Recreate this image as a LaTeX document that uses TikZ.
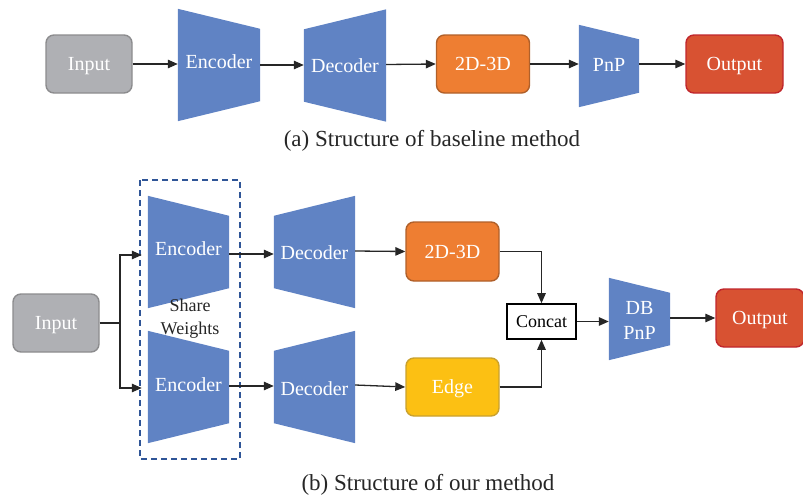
\documentclass[tikz,border=0pt]{standalone}
\usepackage{fontspec}
\setmainfont{Liberation Serif}
\usetikzlibrary{arrows.meta}
\definecolor{tblue}{HTML}{6083C4}
\definecolor{tgray}{HTML}{AFB0B4}
\definecolor{tgrayb}{HTML}{8C8C8E}
\definecolor{torange}{HTML}{EE7E32}
\definecolor{torangeb}{HTML}{B0602A}
\definecolor{tred}{HTML}{D85232}
\definecolor{tredb}{HTML}{C0262C}
\definecolor{tyellow}{HTML}{FCC013}
\definecolor{tyellowb}{HTML}{C9A12E}
\definecolor{tdash}{HTML}{2F5597}
\definecolor{tline}{HTML}{262626}
\begin{document}
\begin{tikzpicture}[x=1pt,y=-1pt,
  box/.style={rounded corners=8pt,line width=1.4pt,minimum width=#1,minimum height=58pt,inner sep=0pt,text=white,font=\fontsize{20}{24}\selectfont,text height=13.2pt,text depth=0pt},
  inbox/.style={box=86pt,fill=tgray,draw=tgrayb},
  orbox/.style={box=93pt,fill=torange,draw=torangeb},
  redbox/.style={box=97pt,fill=tred,draw=tredb},
  yelbox/.style={box=93pt,fill=tyellow,draw=tyellowb},
  trap/.style={minimum width=#1,inner sep=0pt,text=white,font=\fontsize{20}{24}\selectfont,align=center},
  arr/.style={draw=tline,line width=1.3pt,-{Triangle[length=10pt,width=8.5pt]}},
  captext/.style={font=\fontsize{23}{27}\selectfont,text=black!85}
]
\useasboundingbox (0,0) rectangle (803,498);

% ---------- (a) ----------
\node[inbox] (inA) at (89,64) {Input};
\node[trap=82pt,minimum height=112pt] (encA) at (219,65) {};
\fill[tblue] (encA.north west) -- ([yshift=-20pt]encA.north east) -- ([yshift=20pt]encA.south east) -- (encA.south west) -- cycle;
\node[trap=82pt] at (219,62) {Encoder};
\node[trap=82pt,minimum height=112pt] (decA) at (345,65.5) {};
\fill[tblue] ([yshift=-20pt]decA.north west) -- (decA.north east) -- (decA.south east) -- ([yshift=20pt]decA.south west) -- cycle;
\node[trap=82pt] at (345,65.5) {Decoder};
\node[orbox] (d23A) at (483,64) {2D-3D};
\node[trap=60pt,minimum height=82pt] (pnpA) at (609,66) {};
\fill[tblue] (pnpA.north west) -- ([yshift=-14.5pt]pnpA.north east) -- ([yshift=14.5pt]pnpA.south east) -- (pnpA.south west) -- cycle;
\node[trap=60pt] at (609,65) {PnP};
\node[redbox] (outA) at (734.5,64) {Output};

\draw[arr] (inA.east) -- (inA.east -| encA.west);
\draw[arr] (encA.east) -- (encA.east -| decA.west);
\draw[arr] ([yshift=1pt]decA.east) -- (d23A.west);
\draw[arr] (d23A.east) -- (d23A.east -| pnpA.west);
\draw[arr] (pnpA.east |- outA.west) -- (outA.west);

\node[captext] (capA) at (432,141) {(a) Structure of baseline method};

% ---------- (b) ----------
\node[inbox] (inB) at (56,323) {Input};

\draw[tdash,line width=1.5pt,dash pattern=on 6pt off 4pt] (140,180) rectangle (240,459);

\node[trap=81pt,minimum height=112pt] (enc1) at (188.5,252) {};
\fill[tblue] (enc1.north west) -- ([yshift=-20pt]enc1.north east) -- ([yshift=20pt]enc1.south east) -- (enc1.south west) -- cycle;
\node[trap=81pt] at (188.5,249) {Encoder};
\node[trap=81pt,minimum height=112pt] (enc2) at (188.5,387) {};
\fill[tblue] (enc2.north west) -- ([yshift=-20pt]enc2.north east) -- ([yshift=20pt]enc2.south east) -- (enc2.south west) -- cycle;
\node[trap=81pt] at (188.5,385) {Encoder};
\node[font=\fontsize{18}{23}\selectfont,align=center,text=black!85] (share) at (190,319) {Share\\Weights};

\node[trap=81pt,minimum height=112pt] (dec1) at (314.5,252) {};
\fill[tblue] ([yshift=-20pt]dec1.north west) -- (dec1.north east) -- (dec1.south east) -- ([yshift=20pt]dec1.south west) -- cycle;
\node[trap=81pt] at (314.5,253) {Decoder};
\node[trap=81pt,minimum height=112pt] (dec2) at (314.5,387) {};
\fill[tblue] ([yshift=-20pt]dec2.north west) -- (dec2.north east) -- (dec2.south east) -- ([yshift=20pt]dec2.south west) -- cycle;
\node[trap=81pt] at (314.5,389) {Decoder};

\node[orbox,minimum height=59pt] (d23B) at (452.5,251.5) {2D-3D};
\node[yelbox] (edge) at (452.5,387) {Edge};
\node[draw=black,line width=1.6pt,fill=white,minimum width=69pt,minimum height=35pt,inner sep=0pt,font=\fontsize{18}{22}\selectfont] (concat) at (541.5,321.5) {Concat};

\node[trap=61pt,minimum height=82pt] (dbpnp) at (639.5,319) {};
\fill[tblue] (dbpnp.north west) -- ([yshift=-15pt]dbpnp.north east) -- ([yshift=15pt]dbpnp.south east) -- (dbpnp.south west) -- cycle;
\node[trap=61pt,font=\fontsize{20}{25}\selectfont] at (639.5,320) {DB\\PnP};
\node[redbox,minimum width=88pt] (outB) at (760,318) {Output};

\coordinate (split) at (120,323);
\draw[tline,line width=2.4pt] (inB.east) -- (split);
\draw[arr,shorten >=6pt] (split) |- ([yshift=-3pt]enc1.west);
\draw[arr,shorten >=6pt] (split) |- ([yshift=-1pt]enc2.west);
\draw[arr] ([yshift=-2pt]enc1.east) -- ([yshift=-2pt]enc1.east -| dec1.west);
\draw[arr] ([yshift=1pt]enc2.east) -- ([yshift=1pt]enc2.east -| dec2.west);
\draw[arr] ([yshift=1pt]dec1.east) -- (d23B.west);
\draw[arr] ([yshift=2pt]dec2.east) -- (edge.west);
\draw[arr] (d23B.east) -| (concat.north);
\draw[arr] (edge.east) -| (concat.south);
\draw[arr] (concat.east) -- (concat.east -| dbpnp.west);
\draw[arr] (dbpnp.east |- outB.west) -- (outB.west);

\node[captext] (capB) at (428,485) {(b) Structure of our method};
\end{tikzpicture}
\end{document}
